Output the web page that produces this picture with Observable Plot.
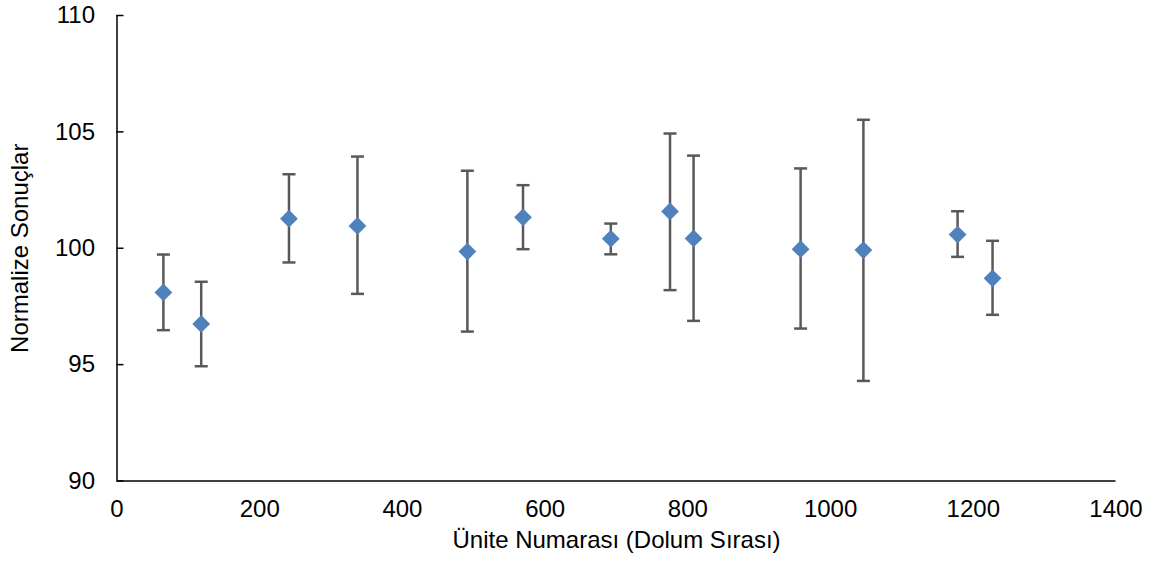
<!DOCTYPE html>
<html>
<head>
<meta charset="utf-8">
<script src="https://cdn.jsdelivr.net/npm/d3@7"></script>
<script src="https://cdn.jsdelivr.net/npm/@observablehq/plot@0.6"></script>
<style>
  html, body { margin: 0; padding: 0; background: #fff; }
  #chart svg { display: block; }
</style>
</head>
<body>
<div id="chart"></div>
<script>
// Data
const unitNumbers = [65, 118, 241, 337, 491, 569, 692, 775, 808, 958, 1046, 1178, 1227];
const normalized  = [98.10, 96.75, 101.27, 100.96, 99.86, 101.33, 100.41, 101.58, 100.42, 99.96, 99.92, 100.59, 98.71];
const lowerBound  = [96.48, 94.93, 99.39, 98.04, 96.42, 99.96, 99.74, 98.20, 96.88, 96.55, 94.30, 99.63, 97.14];
const upperBound  = [99.73, 98.56, 103.18, 103.94, 103.33, 102.71, 101.06, 104.93, 103.98, 103.43, 105.52, 101.59, 100.32];
const xTicks = [0, 200, 400, 600, 800, 1000, 1200, 1400];
const yTicks = [90, 95, 100, 105, 110];
const xTitle = "Ünite Numarası (Dolum Sırası)";
const yTitle = "Normalize Sonuçlar";

const rows = unitNumbers.map((u, i) => ({
  unit: u, value: normalized[i], lo: lowerBound[i], hi: upperBound[i]
}));

// horizontal dash symbol for error-bar caps
const capSymbol = {
  draw(context, size) {
    const r = Math.sqrt(size / Math.PI);
    context.moveTo(-r, 0);
    context.lineTo(r, 0);
  }
};

const barColor = "#595959";
const markerColor = "#4F81BD";

const chart = Plot.plot({
  width: 1158,
  height: 564,
  marginLeft: 116.5,
  marginRight: 42.5,
  marginTop: 15,
  marginBottom: 83.5,
  style: { fontFamily: "Liberation Sans, Arial, sans-serif", fontSize: "24px", color: "#000", background: "#fff" },
  x: { domain: [0, 1400] },
  y: { domain: [90, 110] },
  marks: [
    Plot.axisX({ ticks: xTicks, tickFormat: d => String(d), tickSize: 0, tickPadding: 19, label: null, fontSize: 24 }),
    Plot.axisY({ ticks: yTicks, tickFormat: d => String(d), tickSize: 0, tickPadding: 22, label: null, fontSize: 24 }),
    Plot.axisY({ ticks: yTicks, tickSize: -7, tickFormat: () => "", label: null, stroke: "#000", strokeWidth: 1.5 }),
    Plot.ruleX([0], { y1: 90, y2: 110, stroke: "#000", strokeWidth: 1.5 }),
    Plot.ruleY([90], { x1: 0, x2: 1400, stroke: "#000", strokeWidth: 1.5 }),
    Plot.ruleX(rows, { x: "unit", y1: "lo", y2: "hi", stroke: barColor, strokeWidth: 2.5 }),
    Plot.dot(rows, { x: "unit", y: "lo", symbol: capSymbol, r: 6.5, stroke: barColor, strokeWidth: 2.5, fill: "none" }),
    Plot.dot(rows, { x: "unit", y: "hi", symbol: capSymbol, r: 6.5, stroke: barColor, strokeWidth: 2.5, fill: "none" }),
    Plot.dot(rows, { x: "unit", y: "value", symbol: "diamond2", r: 8, fill: markerColor, stroke: "none" }),
    Plot.text([xTitle], { frameAnchor: "bottom", dy: 66.5, fontSize: 24, textAnchor: "middle", fill: "#000" }),
    Plot.text([yTitle], { frameAnchor: "left", dx: -96.5, rotate: -90, fontSize: 24, textAnchor: "middle", fill: "#000" })
  ]
});

document.getElementById("chart").appendChild(chart);
</script>
</body>
</html>
